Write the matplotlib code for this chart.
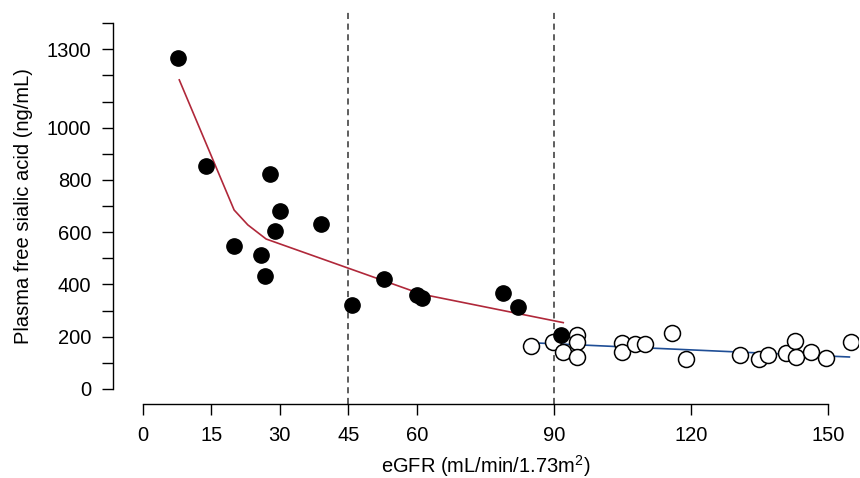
import matplotlib
matplotlib.use("Agg")
import matplotlib.pyplot as plt

# Filled circles (eGFR < ~92)
ckd_x = [7.8, 13.8, 27.9, 30.0, 28.9, 39.0, 20.0, 25.8, 26.8, 45.8, 52.8, 60.0, 61.1, 78.9, 82.0, 91.6]
ckd_y = [1265, 853, 823, 681, 606, 630, 546, 513, 431, 320, 420, 360, 350, 369, 313, 207]

# Open circles (healthy)
ctl_x = [84.9, 89.7, 95.1, 95.1, 91.9, 95.1, 104.9, 104.9, 107.6, 109.8, 115.9, 118.8,
         130.6, 134.8, 136.7, 140.7, 142.8, 142.9, 146.1, 149.5, 154.9]
ctl_y = [165, 181, 207, 181, 143, 121, 175, 143, 172, 172, 213, 114,
         130, 116, 129, 136, 182, 121, 140, 117, 179]

# Fitted curves
red_x = [8, 20, 23, 27, 61, 92]
red_y = [1183, 685, 628, 574, 363, 254]
blue_x = [85.1, 154.6]
blue_y = [177, 122.5]

xticks = [0, 15, 30, 45, 60, 90, 120, 150]
yticks_major = [0, 200, 400, 600, 800, 1000, 1300]
yticks_all = list(range(0, 1500, 100))
cutoffs = [45, 90]

plt.rcParams['font.family'] = ['Liberation Sans', 'DejaVu Sans']
plt.rcParams['mathtext.fontset'] = 'custom'
plt.rcParams['mathtext.rm'] = 'Liberation Sans'
plt.rcParams['mathtext.it'] = 'Liberation Sans'
plt.rcParams['mathtext.default'] = 'regular'

W, H = 860, 478
fig = plt.figure(figsize=(W/100, H/100), dpi=100)
ax_l, ax_r, ax_b, ax_t = 113, 858, 404, 10
ax = fig.add_axes([ax_l/W, (H-ax_b)/H, (ax_r-ax_l)/W, (ax_b-ax_t)/H])

x0px, xs = 142.7, 4.571
y0px, ys = 389.0, 0.2613
ax.set_xlim((ax_l-x0px)/xs, (ax_r-x0px)/xs)
ax.set_ylim((y0px-ax_b)/ys, (y0px-ax_t)/ys)

for c in cutoffs:
    ax.axvline(c, color='#333333', lw=1.1, ls=(0, (4, 3)), zorder=1)

ax.plot(red_x, red_y, color='#B0283A', lw=1.2, zorder=2)
ax.plot(blue_x, blue_y, color='#1F4E96', lw=1.2, zorder=2)

ax.plot(ctl_x, ctl_y, 'o', ms=11.5, mfc='white', mec='black', mew=1.1, ls='none', zorder=3)
ax.plot(ckd_x, ckd_y, 'o', ms=11, mfc='black', mec='black', ls='none', zorder=4)

for s in ['top', 'right']:
    ax.spines[s].set_visible(False)
ax.spines['left'].set_bounds(0, 1400)
ax.spines['bottom'].set_bounds(0, 150)
ax.spines['left'].set_linewidth(1.0)
ax.spines['bottom'].set_linewidth(1.0)

ax.set_xticks(xticks)
ax.set_xticklabels([str(t) for t in xticks])
ax.set_yticks(yticks_all)
ax.set_yticklabels([str(t) if t in yticks_major else '' for t in yticks_all])
ax.tick_params(axis='both', direction='out', length=8, width=1.0, labelsize=14.5)
ax.tick_params(axis='y', pad=7.5)
ax.tick_params(axis='x', pad=7.5)

ax.set_xlabel('eGFR (mL/min/1.73m$^2$)', fontsize=14.5)
ax.set_ylabel('Plasma free sialic acid (ng/mL)', fontsize=14.5)
ax.xaxis.set_label_coords((x0px + 75*xs - ax_l)/(ax_r-ax_l), (ax_b-466)/(ax_b-ax_t))
ax.xaxis.label.set_va('center')
ax.yaxis.set_label_coords((24-ax_l)/(ax_r-ax_l), (ax_b-206)/(ax_b-ax_t))
ax.yaxis.label.set_va('center')

fig.savefig('out.png', dpi=100)
